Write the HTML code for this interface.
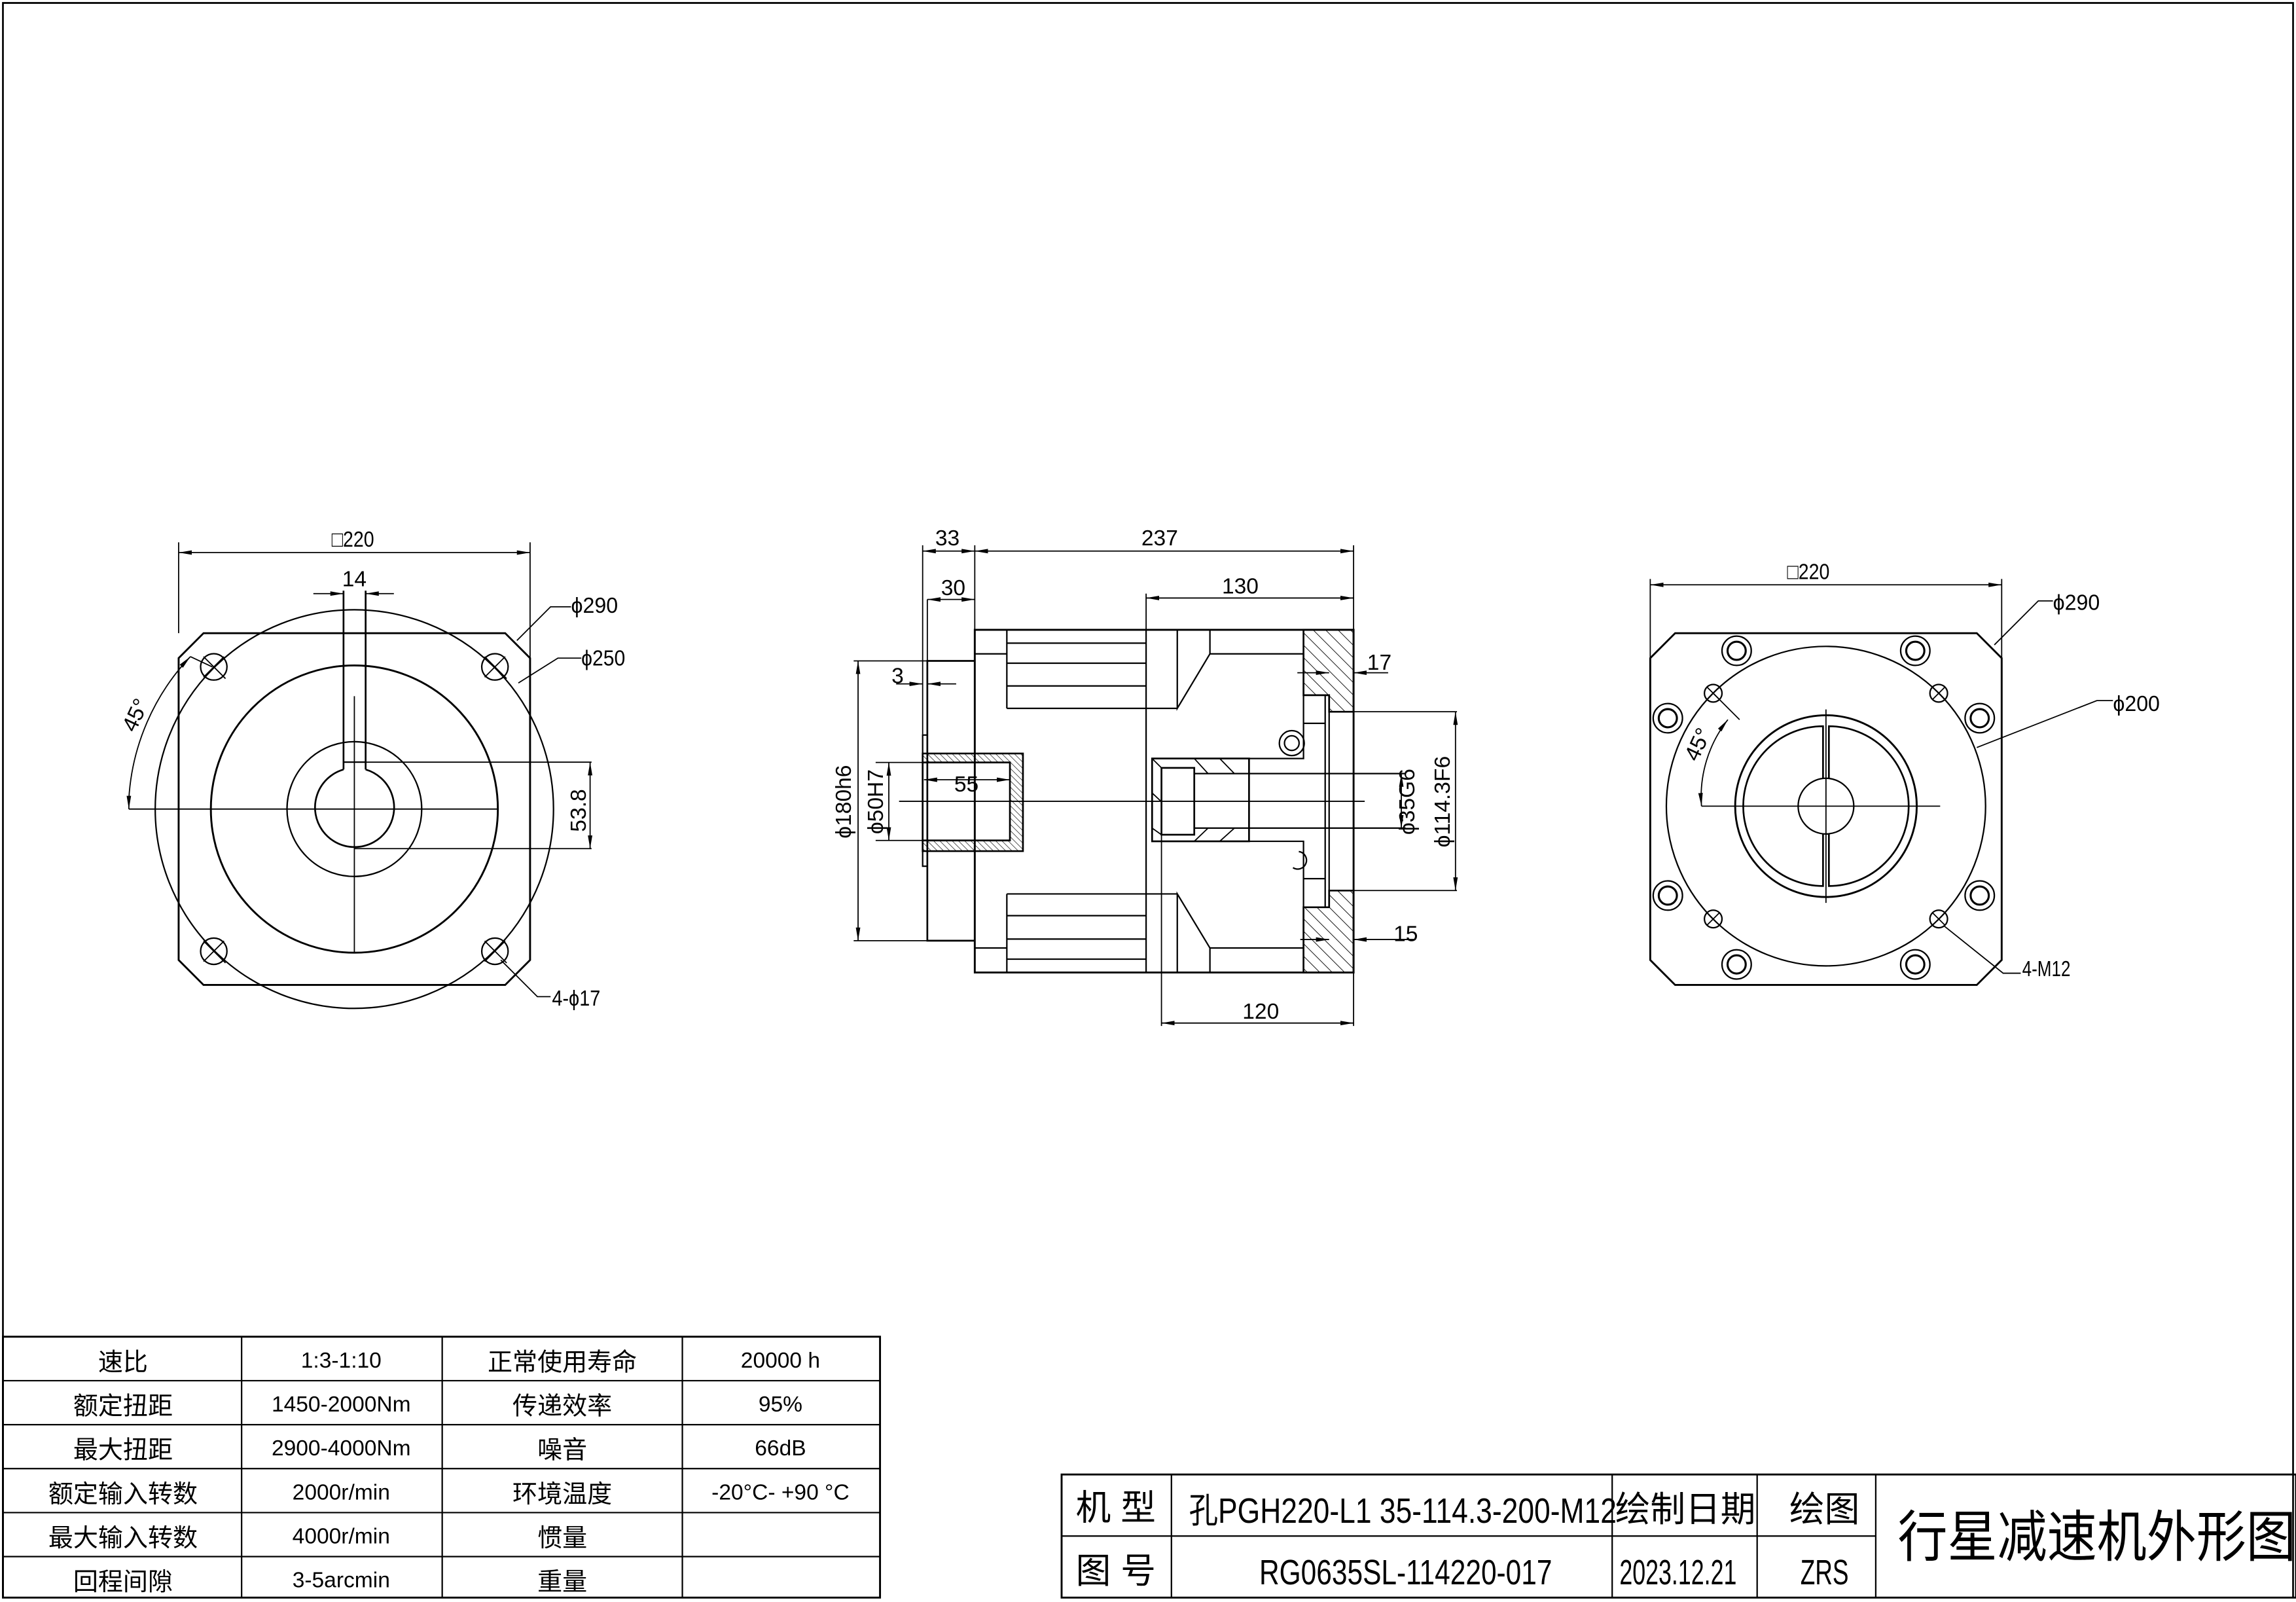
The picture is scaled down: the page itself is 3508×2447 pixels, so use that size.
<!DOCTYPE html>
<html><head><meta charset="utf-8"><style>
html,body{margin:0;padding:0;background:#fff;}
svg{display:block;}
text{font-family:"Liberation Sans","Noto Sans CJK SC",sans-serif;fill:#000;}
</style></head><body>
<svg width="3508" height="2447" viewBox="0 0 1568 1093" preserveAspectRatio="none" xmlns="http://www.w3.org/2000/svg">
<defs>
<marker id="a" viewBox="0 0 10 10" refX="10" refY="5" markerWidth="9" markerHeight="9" orient="auto-start-reverse" markerUnits="userSpaceOnUse"><path d="M0,3.3 L10,5 L0,6.7 z" fill="#000"/></marker>
<pattern id="h" width="6" height="6" patternUnits="userSpaceOnUse" patternTransform="rotate(-45)"><line x1="0" y1="0" x2="0" y2="6" stroke="#000" stroke-width="0.8"/></pattern>
<pattern id="h2" width="3" height="3" patternUnits="userSpaceOnUse" patternTransform="rotate(-45)"><line x1="0" y1="0" x2="0" y2="3" stroke="#000" stroke-width="0.6"/></pattern>
</defs>
<rect x="0" y="0" width="1568" height="1093" fill="#fff"/>
<g fill="none" stroke="#000" stroke-width="1">
<polyline points="2,1090 2,2 1566,2 1566,1090" stroke-width="1.2"/>

<!-- ===== LEFT VIEW ===== -->
<polygon points="139,432 345,432 362,449 362,655 345,672 139,672 122,655 122,449" stroke-width="1.3"/>
<circle cx="242" cy="552" r="136"/>
<circle cx="242" cy="552" r="98" stroke-width="1.3"/>
<circle cx="242" cy="552" r="46"/>
<path d="M234.6,525 A27,27 0 1 0 249.7,525" stroke-width="1.2"/>
<line x1="234.6" y1="403" x2="234.6" y2="525" stroke-width="1.2"/>
<line x1="249.7" y1="403" x2="249.7" y2="525" stroke-width="1.2"/>
<line x1="234.6" y1="520" x2="249.7" y2="520"/>
<line x1="88" y1="552" x2="340" y2="552" stroke-width="0.8"/>
<line x1="242" y1="475" x2="242" y2="650" stroke-width="0.8"/>
<g>
<circle cx="146" cy="455" r="9"/><circle cx="338" cy="455" r="9"/><circle cx="146" cy="649" r="9"/><circle cx="338" cy="649" r="9"/>
<path d="M139,448 L154,463 M153,448 L139,462 M331,448 L346,463 M345,448 L331,462 M139,642 L154,657 M153,642 L139,656 M331,642 L346,657 M345,642 L331,656" stroke-width="0.8"/>
</g>
<line x1="122" y1="370" x2="122" y2="432" stroke-width="0.8"/>
<line x1="362" y1="370" x2="362" y2="449" stroke-width="0.8"/>
<line x1="122" y1="377" x2="362" y2="377" stroke-width="0.8" marker-start="url(#a)" marker-end="url(#a)"/>
<line x1="214" y1="405" x2="234.6" y2="405" stroke-width="0.8" marker-end="url(#a)"/>
<line x1="269" y1="405" x2="249.7" y2="405" stroke-width="0.8" marker-end="url(#a)"/>
<line x1="249.7" y1="520" x2="404" y2="520" stroke-width="0.8"/>
<line x1="242" y1="579" x2="404" y2="579" stroke-width="0.8"/>
<line x1="403" y1="520" x2="403" y2="579" stroke-width="0.8" marker-start="url(#a)" marker-end="url(#a)"/>
<path d="M88,552 L88,545 A154,154 0 0 1 130,448" stroke-width="0.8" marker-start="url(#a)" marker-end="url(#a)"/>
<line x1="130" y1="448" x2="145" y2="455" stroke-width="0.8"/>
<polyline points="353,437 376,414 390,414" stroke-width="0.8"/>
<polyline points="354,466 381,449 397,449" stroke-width="0.8"/>
<polyline points="342,655 367,680 376,680" stroke-width="0.8"/>

<!-- ===== MIDDLE VIEW ===== -->
<rect x="665.7" y="429.7" width="258.7" height="233.8" stroke-width="1.3"/>
<polyline points="665.7,450.9 633.3,450.9 633.3,641.8 665.7,641.8" stroke-width="1.2"/>
<polyline points="633.3,501.5 630.1,501.5 630.1,591 633.3,591" stroke-width="1"/>
<line x1="665.7" y1="446.1" x2="687.6" y2="446.1"/>
<line x1="665.7" y1="646.8" x2="687.6" y2="646.8"/>
<line x1="687.6" y1="429.7" x2="687.6" y2="483.3"/>
<line x1="687.6" y1="609.9" x2="687.6" y2="663.5"/>
<polyline points="687.6,438.8 782.7,438.8" />
<polyline points="687.6,452.5 782.7,452.5" />
<polyline points="687.6,468 782.7,468" />
<polyline points="687.6,483.3 804,483.3" />
<polyline points="687.6,609.9 804,609.9" />
<polyline points="687.6,624.7 782.7,624.7" />
<polyline points="687.6,640.7 782.7,640.7" />
<polyline points="687.6,654.4 782.7,654.4" />
<line x1="782.7" y1="429.7" x2="782.7" y2="663.5"/>
<polyline points="804,429.7 804,483.3 826.3,446.1 826.3,429.7"/>
<polyline points="804,663.5 804,609.9 826.3,646.8 826.3,663.5"/>
<line x1="826.3" y1="446.1" x2="890.2" y2="446.1"/>
<line x1="826.3" y1="646.8" x2="890.2" y2="646.8"/>
<polygon points="890.2,429.7 924.4,429.7 924.4,485.6 907.7,485.6 907.7,474.3 890.2,474.3" fill="url(#h)" stroke-width="1.2"/>
<polygon points="890.2,663.5 924.4,663.5 924.4,607.6 907.7,607.6 907.7,619 890.2,619" fill="url(#h)" stroke-width="1.2"/>
<polyline points="890.2,446.1 890.2,517.5 853,517.5"/>
<polyline points="890.2,646.8 890.2,574 853,574"/>
<polyline points="890.2,474.3 905,474.3 905,619 890.2,619"/>
<line x1="890.2" y1="493.5" x2="905" y2="493.5"/>
<line x1="890.2" y1="599.5" x2="905" y2="599.5"/>
<line x1="907.7" y1="485.6" x2="907.7" y2="607.6"/>
<line x1="924.4" y1="485.6" x2="995" y2="485.6" stroke-width="0.8"/>
<line x1="924.4" y1="607.6" x2="995" y2="607.6" stroke-width="0.8"/>
<circle cx="882.2" cy="507" r="8.5"/><circle cx="882.2" cy="507" r="5"/>
<path d="M887,581 A6,6 0 1 1 883,592"/>
<rect x="786.8" y="517.5" width="66.2" height="56.5" stroke-width="1.2"/>
<path d="M786.8,517.5 L793.2,523.9 M786.8,541 L793.2,547 M786.8,565 L793.2,569.5 M815.6,517.5 L825,527.8 M833,517.5 L843,527.8 M815.6,574 L825,565 M833,574 L843,565" stroke-width="0.8"/>
<rect x="793.2" y="523.9" width="22.4" height="45.6" stroke-width="1.2"/>
<line x1="815.6" y1="527.8" x2="960" y2="527.8"/>
<line x1="815.6" y1="565" x2="960" y2="565"/>
<line x1="853" y1="517.5" x2="853" y2="527.8"/>
<line x1="853" y1="565" x2="853" y2="574"/>
<path d="M630.1,514.1 H698.6 V580.7 H630.1 V573.4 H689.7 V520.2 H630.1 Z" fill="url(#h2)" stroke-width="1.2"/>
<line x1="630.1" y1="520.2" x2="630.1" y2="573.4" stroke-width="1.2"/>
<line x1="614" y1="546.7" x2="932" y2="546.7" stroke-width="0.8"/>
<line x1="630.1" y1="372" x2="630.1" y2="501" stroke-width="0.8"/>
<line x1="665.7" y1="372" x2="665.7" y2="429.7" stroke-width="0.8"/>
<line x1="924.4" y1="372" x2="924.4" y2="429.7" stroke-width="0.8"/>
<line x1="630.1" y1="376" x2="665.7" y2="376" stroke-width="0.8" marker-start="url(#a)" marker-end="url(#a)"/>
<line x1="665.7" y1="376" x2="924.4" y2="376" stroke-width="0.8" marker-start="url(#a)" marker-end="url(#a)"/>
<line x1="633.3" y1="409" x2="665.7" y2="409" stroke-width="0.8" marker-start="url(#a)" marker-end="url(#a)"/>
<line x1="633.3" y1="409" x2="633.3" y2="450.9" stroke-width="0.8"/>
<line x1="782.7" y1="405" x2="782.7" y2="429.7" stroke-width="0.8"/>
<line x1="782.7" y1="408" x2="924.4" y2="408" stroke-width="0.8" marker-start="url(#a)" marker-end="url(#a)"/>
<line x1="793.2" y1="569.5" x2="793.2" y2="700" stroke-width="0.8"/>
<line x1="924.4" y1="663.5" x2="924.4" y2="700" stroke-width="0.8"/>
<line x1="793.2" y1="698" x2="924.4" y2="698" stroke-width="0.8" marker-start="url(#a)" marker-end="url(#a)"/>
<line x1="631" y1="532" x2="689.7" y2="532" stroke-width="0.8" marker-start="url(#a)" marker-end="url(#a)"/>
<line x1="598" y1="520.2" x2="630.1" y2="520.2" stroke-width="0.8"/>
<line x1="598" y1="573.4" x2="630.1" y2="573.4" stroke-width="0.8"/>
<line x1="607" y1="520.2" x2="607" y2="573.4" stroke-width="0.8" marker-start="url(#a)" marker-end="url(#a)"/>
<line x1="583" y1="450.9" x2="633.3" y2="450.9" stroke-width="0.8"/>
<line x1="583" y1="641.8" x2="633.3" y2="641.8" stroke-width="0.8"/>
<line x1="586" y1="450.9" x2="586" y2="641.8" stroke-width="0.8" marker-start="url(#a)" marker-end="url(#a)"/>
<line x1="612" y1="466.6" x2="630.1" y2="466.6" stroke-width="0.8" marker-end="url(#a)"/>
<line x1="653" y1="466.6" x2="633.3" y2="466.6" stroke-width="0.8" marker-end="url(#a)"/>
<line x1="886" y1="459" x2="907.7" y2="459" stroke-width="0.8" marker-end="url(#a)"/>
<line x1="948" y1="459" x2="924.4" y2="459" stroke-width="0.8" marker-end="url(#a)"/>
<line x1="888" y1="641" x2="907.7" y2="641" stroke-width="0.8" marker-end="url(#a)"/>
<line x1="966" y1="641" x2="924.4" y2="641" stroke-width="0.8" marker-end="url(#a)"/>
<line x1="957" y1="527.8" x2="957" y2="565" stroke-width="0.8" marker-start="url(#a)" marker-end="url(#a)"/>
<line x1="994" y1="485.6" x2="994" y2="607.6" stroke-width="0.8" marker-start="url(#a)" marker-end="url(#a)"/>

<!-- ===== RIGHT VIEW ===== -->
<polygon points="1144,432 1350,432 1367,449 1367,655 1350,672 1144,672 1127,655 1127,449" stroke-width="1.3"/>
<circle cx="1247" cy="550" r="109"/>
<circle cx="1247" cy="550" r="62" stroke-width="1.3"/>
<path d="M1245,495.5 A54.5,54.5 0 0 0 1245,604.5 Z M1249,495.5 A54.5,54.5 0 0 1 1249,604.5 Z" stroke-width="1.2"/>
<circle cx="1247" cy="550" r="19" fill="#fff"/>
<line x1="1247" y1="484" x2="1247" y2="616" stroke-width="0.8"/>
<line x1="1162" y1="550" x2="1325" y2="550" stroke-width="0.8"/>
<g stroke-width="1">
<circle cx="1186" cy="444" r="10"/><circle cx="1186" cy="444" r="6.2" stroke-width="1.4"/>
<circle cx="1308" cy="444" r="10"/><circle cx="1308" cy="444" r="6.2" stroke-width="1.4"/>
<circle cx="1139" cy="490" r="10"/><circle cx="1139" cy="490" r="6.2" stroke-width="1.4"/>
<circle cx="1352" cy="490" r="10"/><circle cx="1352" cy="490" r="6.2" stroke-width="1.4"/>
<circle cx="1139" cy="611" r="10"/><circle cx="1139" cy="611" r="6.2" stroke-width="1.4"/>
<circle cx="1352" cy="611" r="10"/><circle cx="1352" cy="611" r="6.2" stroke-width="1.4"/>
<circle cx="1186" cy="658" r="10"/><circle cx="1186" cy="658" r="6.2" stroke-width="1.4"/>
<circle cx="1308" cy="658" r="10"/><circle cx="1308" cy="658" r="6.2" stroke-width="1.4"/>
<circle cx="1170" cy="473" r="6"/><circle cx="1324" cy="473" r="6"/><circle cx="1170" cy="627" r="6"/><circle cx="1324" cy="627" r="6"/>
<path d="M1166,469 L1174,477 M1174,469 L1166,477 M1320,469 L1328,477 M1328,469 L1320,477 M1166,623 L1174,631 M1174,623 L1166,631 M1320,623 L1328,631 M1328,623 L1320,631" stroke-width="0.8"/>
</g>
<line x1="1127" y1="395" x2="1127" y2="449" stroke-width="0.8"/>
<line x1="1367" y1="395" x2="1367" y2="449" stroke-width="0.8"/>
<line x1="1127" y1="399" x2="1367" y2="399" stroke-width="0.8" marker-start="url(#a)" marker-end="url(#a)"/>
<path d="M1162,550 A85,85 0 0 1 1180,491" stroke-width="0.8" marker-start="url(#a)" marker-end="url(#a)"/>
<line x1="1170" y1="473" x2="1188" y2="491" stroke-width="0.8"/>
<polyline points="1362,440 1392,410 1402,410" stroke-width="0.8"/>
<polyline points="1350,510 1432,478 1443,478" stroke-width="0.8"/>
<polyline points="1328,632 1368,664 1380,664" stroke-width="0.8"/>
</g>

<g font-size="15">
<text x="241" y="373" text-anchor="middle" textLength="29" lengthAdjust="spacingAndGlyphs">□220</text>
<text x="242" y="400" text-anchor="middle">14</text>
<text x="390" y="418" textLength="32" lengthAdjust="spacingAndGlyphs">ϕ290</text>
<text x="397" y="454" textLength="30" lengthAdjust="spacingAndGlyphs">ϕ250</text>
<text x="377" y="686" textLength="33" lengthAdjust="spacingAndGlyphs">4-ϕ17</text>
<text transform="translate(400,553) rotate(-90)" text-anchor="middle">53.8</text>
<text transform="translate(97,490) rotate(-65)" text-anchor="middle">45°</text>
<text x="647" y="372" text-anchor="middle">33</text>
<text x="792" y="372" text-anchor="middle">237</text>
<text x="651" y="406" text-anchor="middle">30</text>
<text x="847" y="405" text-anchor="middle">130</text>
<text x="660" y="540" text-anchor="middle">55</text>
<text x="861" y="695" text-anchor="middle">120</text>
<text x="613" y="466" text-anchor="middle">3</text>
<text x="942" y="457" text-anchor="middle">17</text>
<text x="960" y="642" text-anchor="middle">15</text>
<text transform="translate(603,547) rotate(-90)" text-anchor="middle">ϕ50H7</text>
<text transform="translate(581,547) rotate(-90)" text-anchor="middle">ϕ180h6</text>
<text transform="translate(966,547) rotate(-90)" text-anchor="middle">ϕ35G6</text>
<text transform="translate(990,547) rotate(-90)" text-anchor="middle">ϕ114.3F6</text>
<text x="1235" y="395" text-anchor="middle" textLength="29" lengthAdjust="spacingAndGlyphs">□220</text>
<text x="1402" y="416" textLength="32" lengthAdjust="spacingAndGlyphs">ϕ290</text>
<text x="1443" y="485" textLength="32" lengthAdjust="spacingAndGlyphs">ϕ200</text>
<text x="1381" y="666" textLength="33" lengthAdjust="spacingAndGlyphs">4-M12</text>
<text transform="translate(1164,510) rotate(-65)" text-anchor="middle">45°</text>
</g>

<g fill="none" stroke="#000" stroke-width="1">
<rect x="2" y="912" width="599" height="178" stroke-width="1.3"/>
<path d="M2,942 H601 M2,972 H601 M2,1002 H601 M2,1032 H601 M2,1062 H601 M165,912 V1090 M302,912 V1090 M466,912 V1090"/>
</g>
<g font-size="17" text-anchor="middle">
<text x="84" y="935">速比</text><text x="233" y="933" font-size="15">1:3-1:10</text><text x="384" y="935">正常使用寿命</text><text x="533" y="933" font-size="15">20000 h</text>
<text x="84" y="965">额定扭距</text><text x="233" y="963" font-size="15">1450-2000Nm</text><text x="384" y="965">传递效率</text><text x="533" y="963" font-size="15">95%</text>
<text x="84" y="995">最大扭距</text><text x="233" y="993" font-size="15">2900-4000Nm</text><text x="384" y="995">噪音</text><text x="533" y="993" font-size="15">66dB</text>
<text x="84" y="1025">额定输入转数</text><text x="233" y="1023" font-size="15">2000r/min</text><text x="384" y="1025">环境温度</text><text x="533" y="1023" font-size="15">-20°C- +90 °C</text>
<text x="84" y="1055">最大输入转数</text><text x="233" y="1053" font-size="15">4000r/min</text><text x="384" y="1055">惯量</text>
<text x="84" y="1085">回程间隙</text><text x="233" y="1083" font-size="15">3-5arcmin</text><text x="384" y="1085">重量</text>
</g>

<g fill="none" stroke="#000" stroke-width="1">
<rect x="725" y="1006" width="843" height="84" stroke-width="1.3"/>
<path d="M725,1048 H1281 M800,1006 V1090 M1101,1006 V1090 M1200,1006 V1090 M1281,1006 V1090"/>
</g>
<g font-size="24" text-anchor="middle">
<text x="762" y="1037">机 型</text>
<text x="762" y="1080">图 号</text>
<text x="958" y="1039" textLength="292" lengthAdjust="spacingAndGlyphs">孔PGH220-L1 35-114.3-200-M12</text>
<text x="960" y="1081" textLength="200" lengthAdjust="spacingAndGlyphs">RG0635SL-114220-017</text>
<text x="1151" y="1038">绘制日期</text>
<text x="1146" y="1081" textLength="80" lengthAdjust="spacingAndGlyphs">2023.12.21</text>
<text x="1246" y="1038">绘图</text>
<text x="1246" y="1081" textLength="33" lengthAdjust="spacingAndGlyphs">ZRS</text>
<text x="1432" y="1062" font-size="38" textLength="272" lengthAdjust="spacingAndGlyphs">行星减速机外形图</text>
</g>
</svg>
</body></html>
